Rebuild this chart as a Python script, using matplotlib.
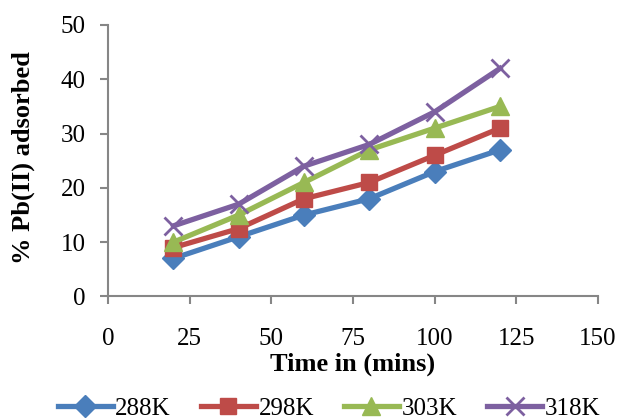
import matplotlib.pyplot as plt

time = [20, 40, 60, 80, 100, 120]
ads_288 = [7, 11, 15, 18, 23, 27]
ads_298 = [9, 12.5, 18, 21, 26, 31]
ads_303 = [10, 15, 21, 27, 31, 35]
ads_318 = [13, 17, 24, 28, 34, 42]

plt.rcParams['font.family'] = 'Liberation Serif'

fig = plt.figure(figsize=(6.19, 4.19), dpi=100)
ax = fig.add_axes([0.1745, 0.2924, 0.7916, 0.648])

ax.plot(time, ads_288, color='#4A7EBB', lw=3.8, marker='D', ms=11, label='288K')
ax.plot(time, ads_298, color='#BE4B48', lw=3.8, marker='s', ms=12, label='298K')
ax.plot(time, ads_303, color='#98B954', lw=3.8, marker='^', ms=13, label='303K')
ax.plot(time, ads_318, color='#7D60A0', lw=3.8, marker='x', ms=13, mew=2, label='318K')

ax.set_xlim(0, 150)
ax.set_ylim(0, 50)
ax.set_xticks([0, 25, 50, 75, 100, 125, 150])
ax.set_yticks([0, 10, 20, 30, 40, 50])
for s in ['top', 'right']:
    ax.spines[s].set_visible(False)
for s in ['left', 'bottom']:
    ax.spines[s].set_color('#868686')
    ax.spines[s].set_linewidth(1.5)
ax.tick_params(colors='#868686', labelcolor='black', labelsize=18, length=6, width=1.5)
ax.tick_params(axis='x', pad=17)
ax.tick_params(axis='y', pad=10)
ax.set_xlabel('Time in (mins)', fontsize=19, fontweight='bold', labelpad=1.5)
ax.set_ylabel('% Pb(II) adsorbed', fontsize=19, fontweight='bold')
ax.yaxis.set_label_coords(-0.149, 0.51)

ax.legend(loc='center', bbox_to_anchor=(329 / 619, 0.024), bbox_transform=fig.transFigure,
          ncol=4, frameon=False, fontsize=18, handlelength=2.2, handletextpad=0.1,
          columnspacing=1.2)

fig.savefig('out.png', dpi=100)
